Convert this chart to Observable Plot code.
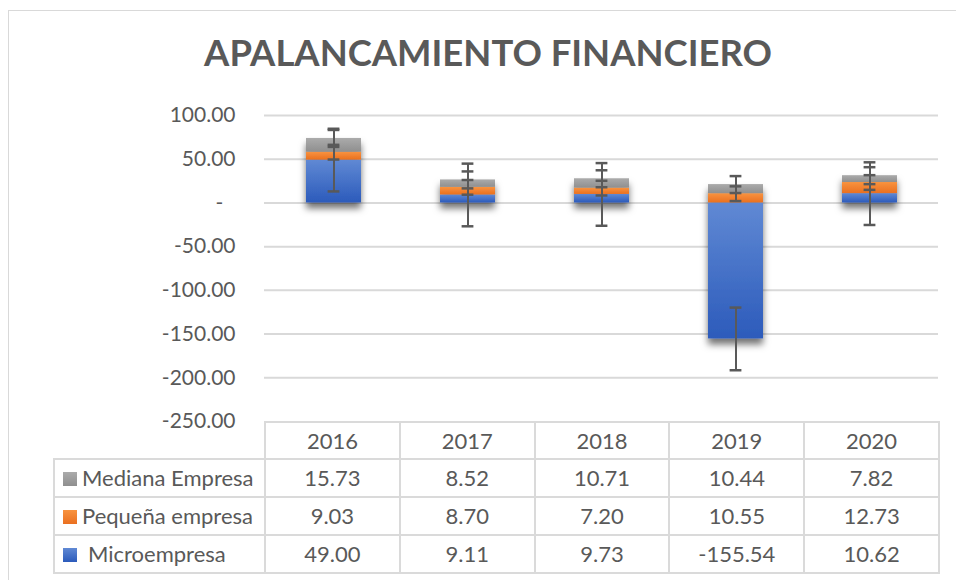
<!DOCTYPE html>
<html>
<head>
<meta charset="utf-8">
<script src="https://cdn.jsdelivr.net/npm/d3@7"></script>
<script src="https://cdn.jsdelivr.net/npm/@observablehq/plot@0.6"></script>
<style>
  html, body { margin: 0; padding: 0; background: #fff; }
  #wrap { position: relative; width: 956px; height: 580px; overflow: hidden; font-family: Lato, "Open Sans", sans-serif; color: #595959; }
  #frame { position: absolute; left: 8px; top: 10px; width: 980px; height: 600px; border: 1.5px solid #d9d9d9; box-sizing: border-box; }
  #title { position: absolute; left: 0; width: 976px; text-align: center; font-weight: 700; color: #595959; line-height: 1.2; white-space: nowrap; }
  #chart { position: absolute; left: 0; top: 95px; }
  #tbl { position: absolute; left: 53px; top: 421px; width: 885px; border-collapse: collapse; table-layout: fixed; font-size: 22px; color: #595959; }
  #tbl td { border: 2px solid #dadada; padding: 0; text-align: center; white-space: nowrap; line-height: 1; }
  #tbl td.blank { border: none; }
  #tbl td.lab { text-align: left; padding-left: 8px; }
  .key { display: inline-block; width: 14px; height: 14px; margin-right: 5px; vertical-align: 0px; }
</style>
</head>
<body>
<div id="wrap">
  <div id="frame"></div>
  <div id="title">APALANCAMIENTO FINANCIERO</div>
  <div id="chart"></div>
  <table id="tbl"></table>
</div>
<script>
// ---- data ----
const years = ["2016", "2017", "2018", "2019", "2020"];
const seriesNames = ["Microempresa", "Pequeña empresa", "Mediana Empresa"];
const micro   = [49.00, 9.11, 9.73, -155.54, 10.62];
const pequena = [9.03, 8.70, 7.20, 10.55, 12.73];
const mediana = [15.73, 8.52, 10.71, 10.44, 7.82];
const errorAmounts = [35.84, 8.4, 9.7];           // error bar half-length per series
const yTicks = [100, 50, 0, -50, -100, -150, -200, -250];
const tableOrder = ["Mediana Empresa", "Pequeña empresa", "Microempresa"];

const seriesValues = [micro, pequena, mediana];
const gradIds = ["gBlue", "gOrange", "gGray"];
const gradStops = {
  gBlue: ["#6089d4", "#2c5bbb"],
  gOrange: ["#f8933f", "#ea7020"],
  gGray: ["#ababab", "#8f8f8f"]
};

// rows for stacked bars (series order = stacking order)
const rows = [];
seriesNames.forEach((s, i) => years.forEach((y, j) => rows.push({year: y, series: s, value: seriesValues[i][j], fill: `url(#${gradIds[i]})`})));

// error bar positions at the top of each stacked segment
const errRows = [];
years.forEach((y, j) => {
  let pos = 0, neg = 0;
  seriesNames.forEach((s, i) => {
    const v = seriesValues[i][j];
    let top;
    if (v >= 0) { pos += v; top = pos; } else { neg += v; top = neg; }
    errRows.push({year: y, series: s, lo: top - errorAmounts[i], hi: top + errorAmounts[i]});
  });
});

// ---- title sizing ----
(function () {
  const c = document.createElement("canvas").getContext("2d");
  c.font = "bold 40px Lato";
  const w = c.measureText("APALANCAMIENTO FINANCIERO").width;
  const size = 40 * 568 / w;
  const t = document.getElementById("title");
  t.style.fontSize = size + "px";
  t.style.top = (71 - 0.987 * size - 0.1 * size) + "px";
})();

const fmt = d => d === 0 ? "-\u2007" : d.toFixed(2);

const plot = Plot.plot({
  width: 956,
  height: 340,
  marginLeft: 264,
  marginRight: 18,
  marginTop: 20,
  marginBottom: 14,
  style: {background: "transparent", color: "#595959", fontFamily: "Lato", fontSize: "21px", overflow: "visible"},
  x: {domain: years, paddingInner: 0.59, paddingOuter: 0.295, axis: null},
  y: {domain: [-250, 100], ticks: yTicks, tickFormat: fmt, tickSize: 0, tickPadding: 29, label: null},
  color: {type: "identity"},
  marks: [
    Plot.ruleY(yTicks.filter(t => t > -250), {stroke: "#d9d9d9", strokeWidth: 2}),
    Plot.barY(rows, {x: "year", y: "value", fill: "fill"}),
    Plot.ruleX(errRows, {x: "year", y1: "lo", y2: "hi", stroke: "#595959", strokeWidth: 2}),
    Plot.tickY(errRows, {x: "year", y: "lo", stroke: "#595959", strokeWidth: 2.5, insetLeft: 21.6, insetRight: 21.6}),
    Plot.tickY(errRows, {x: "year", y: "hi", stroke: "#595959", strokeWidth: 2.5, insetLeft: 21.6, insetRight: 21.6})
  ]
});

const svg = d3.select(plot);
const defs = svg.insert("defs", ":first-child");
Object.entries(gradStops).forEach(([id, [a, b]]) => {
  const g = defs.append("linearGradient").attr("id", id).attr("x1", 0).attr("y1", 0).attr("x2", 0).attr("y2", 1);
  g.append("stop").attr("offset", "0%").attr("stop-color", a);
  g.append("stop").attr("offset", "100%").attr("stop-color", b);
});
const f = defs.append("filter").attr("id", "shadow").attr("x", "-30%").attr("y", "-30%").attr("width", "160%").attr("height", "160%");
f.append("feDropShadow").attr("dx", 0).attr("dy", 6).attr("stdDeviation", 3.5).attr("flood-color", "#000").attr("flood-opacity", 0.55);
svg.selectAll("g[aria-label='bar']").attr("filter", "url(#shadow)");

document.getElementById("chart").appendChild(plot);

// ---- data table ----
const tbl = d3.select("#tbl");
const cg = tbl.append("colgroup");
cg.append("col").style("width", "211px");
years.forEach(() => cg.append("col").style("width", "134.8px"));
const hr = tbl.append("tr").style("height", "37px");
hr.append("td").attr("class", "blank");
years.forEach(y => hr.append("td").text(y));
const keyColors = {"Microempresa": gradStops.gBlue, "Pequeña empresa": gradStops.gOrange, "Mediana Empresa": gradStops.gGray};
tableOrder.forEach(s => {
  const i = seriesNames.indexOf(s);
  const tr = tbl.append("tr").style("height", "38px");
  const lab = tr.append("td").attr("class", "lab");
  const [a, b] = keyColors[s];
  lab.append("span").attr("class", "key").style("background", `linear-gradient(${a}, ${b})`);
  lab.append("span").style("margin-left", s === "Microempresa" ? "6px" : "0px").text(s);
  seriesValues[i].forEach(v => tr.append("td").text(v.toFixed(2)));
});
</script>
</body>
</html>
